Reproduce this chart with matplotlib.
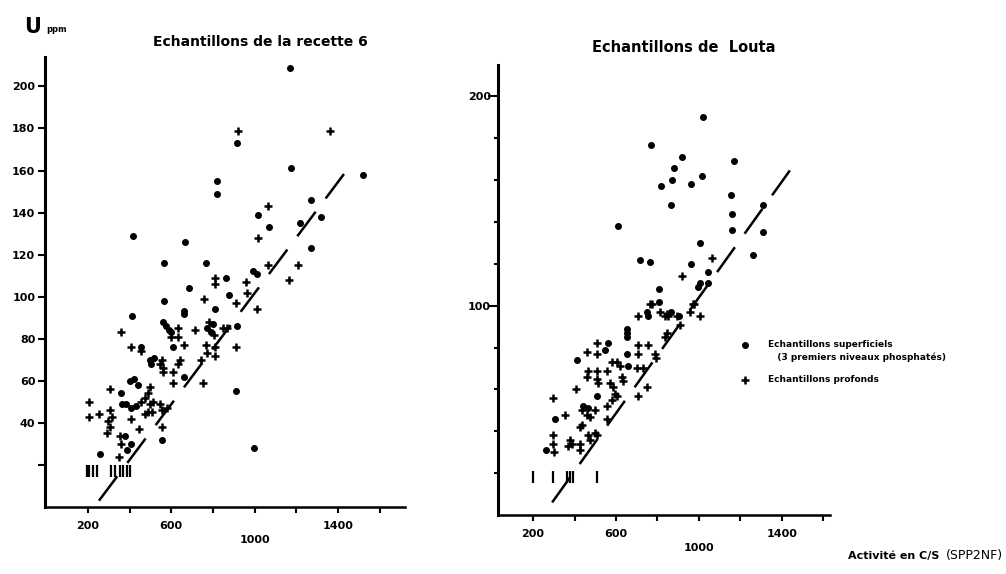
import matplotlib
matplotlib.use("Agg")
import matplotlib.pyplot as plt

plt.rcParams['font.family'] = ['DejaVu Sans']
plt.rcParams['lines.scale_dashes'] = False

# ---------------- data : left panel (Echantillons de la recette 6) -------------
left_sup_x = [1170, 915, 1176, 1518, 818, 819, 1270, 1018, 1318, 1216, 1070, 418, 667,
              1269, 566, 766, 990, 1010, 864, 686, 875, 565, 810, 659, 662, 413, 562,
              914, 609, 457, 500, 505, 515, 661, 909, 998, 358, 400, 420, 440, 362,
              385, 409, 433, 557, 378, 405, 386, 258, 575, 590, 600, 770, 790, 800]
left_sup_y = [209, 173, 161, 158, 155, 149, 146, 139, 138, 135, 133, 129, 126,
              123, 116, 116, 112, 111, 109, 104, 101, 98, 94, 93, 92, 91, 88,
              86, 76, 76, 70, 68, 71, 62, 55, 28, 54, 60, 61, 58, 49,
              49, 47, 48, 32, 34, 30, 27, 25, 86, 84, 83, 85, 83, 87]
left_deep_x = [920, 1362, 1062, 1018, 1066, 1210, 811, 811, 1163, 957, 962, 758, 910,
               1010, 360, 633, 633, 601, 714, 849, 866, 661, 765, 810, 909, 406, 454,
               557, 642, 633, 609, 609, 745, 772, 810, 753, 546, 562, 562, 306, 498,
               490, 457, 474, 498, 513, 506, 546, 554, 578, 490, 474, 205, 205, 254,
               306, 314, 298, 306, 290, 406, 445, 554, 354, 358, 349, 780, 805]
left_deep_y = [179, 179, 143, 128, 115, 115, 109, 106, 108, 107, 102, 99, 97,
               94, 83, 85, 81, 81, 84, 85, 85, 77, 77, 76, 76, 76, 74,
               70, 70, 68, 64, 59, 70, 73, 72, 59, 68, 66, 64, 56, 57,
               54, 50, 52, 49, 50, 45, 49, 46, 47, 45, 44, 50, 43, 44,
               46, 43, 41, 38, 35, 42, 37, 38, 34, 30, 24, 88, 82]
left_low_x = [196, 200, 205, 222, 242, 309, 329, 354, 370, 386, 402]
left_low_y = [17, 17, 17, 17, 17, 17, 17, 17, 17, 17, 17]
left_fit_x = [253, 1434]
left_fit_y = [3, 159]

# ---------------- data : right panel (Echantillons de Louta) -------------------
right_sup_x = [1018, 767, 917, 880, 1169, 870, 1013, 815, 962, 1156, 867, 1310, 1161,
               611, 1161, 1309, 1005, 1262, 716, 764, 960, 1042, 1005, 997, 1045, 809,
               806, 904, 748, 756, 652, 563, 547, 414, 659, 510, 306, 263, 864, 652,
               652, 655, 442, 467]
right_sup_y = [190, 177, 171, 166, 169, 160, 162, 157, 158, 153, 148, 148, 144,
               138, 136, 135, 130, 124, 122, 121, 120, 116, 111, 109, 111, 108,
               102, 95, 97, 95, 77, 82, 79, 74, 71, 57, 46, 31, 97, 89,
               87, 85, 52, 51]
right_deep_x = [1061, 917, 772, 978, 708, 812, 836, 957, 1005, 764, 844, 852, 893, 909,
                973, 844, 836, 756, 788, 791, 708, 708, 510, 510, 459, 579, 603, 700,
                732, 467, 459, 507, 507, 515, 558, 571, 587, 595, 603, 579, 619, 627,
                635, 407, 708, 748, 298, 435, 499, 555, 475, 459, 354, 555, 435, 427,
                499, 507, 467, 475, 378, 370, 386, 427, 427, 298, 298, 303]
right_deep_y = [123, 114, 101, 101, 95, 97, 95, 97, 95, 101, 96, 95, 95, 91,
                101, 87, 85, 81, 77, 75, 81, 77, 82, 77, 78, 73, 73, 70,
                70, 69, 66, 69, 65, 63, 69, 63, 61, 58, 57, 55, 71, 66,
                64, 60, 57, 61, 56, 50, 50, 52, 47, 48, 48, 46, 43, 42,
                39, 38, 38, 36, 36, 33, 34, 34, 31, 38, 34, 30]
right_low_x = [200, 296, 362, 378, 394, 508]
right_low_y = [18, 18, 18, 18, 18, 18]
right_fit_x = [292, 1463]
right_fit_y = [6, 168]

xticks = [200, 400, 600, 800, 1000, 1200, 1400, 1600]
xticklabels = ['200', '', '600', '', '1000', '', '1400', '']
left_yticks = [20, 40, 60, 80, 100, 120, 140, 160, 180, 200]
left_yticklabels = ['', '40', '60', '80', '100', '120', '140', '160', '180', '200']
right_yticks = [20, 40, 60, 80, 100, 120, 140, 160, 180, 200]
right_yticklabels = ['', '', '', '', '100', '', '', '', '', '200']

legend_sup = 'Echantillons superficiels\n   (3 premiers niveaux phosphatés)'
legend_deep = 'Echantillons profonds'

W, H = 1006, 574
fig = plt.figure(figsize=(W / 100, H / 100), dpi=100)
fig.patch.set_facecolor('white')

axL = fig.add_axes([45 / W, 1 - 507 / H, 360 / W, 450 / H])
axR = fig.add_axes([498 / W, 1 - 515 / H, 332 / W, 450 / H])

dot_kw = dict(marker='o', ms=4.0, color='black', linestyle='none', mec='black')
plus_kw = dict(marker='+', ms=5.5, mew=1.8, color='black', linestyle='none')
bar_kw = dict(marker='|', ms=9, mew=1.6, color='black', linestyle='none')

for ax, sx, sy, dx, dy, lx, ly, fx, fy in [
        (axL, left_sup_x, left_sup_y, left_deep_x, left_deep_y,
         left_low_x, left_low_y, left_fit_x, left_fit_y),
        (axR, right_sup_x, right_sup_y, right_deep_x, right_deep_y,
         right_low_x, right_low_y, right_fit_x, right_fit_y)]:
    ax.set_facecolor('white')
    ax.plot(sx, sy, **dot_kw)
    ax.plot(dx, dy, **plus_kw)
    ax.plot(lx, ly, **bar_kw)
    line, = ax.plot(fx, fy, color='black', lw=1.8)
    line.set_dashes((22, 12))
    for s in ['top', 'right']:
        ax.spines[s].set_visible(False)
    ax.spines['left'].set_linewidth(2.2)
    ax.spines['bottom'].set_linewidth(1.8)
    ax.set_xticks(xticks)
    ax.set_xticklabels(xticklabels, fontsize=8, fontweight='bold')
    ax.tick_params(axis='x', direction='out', length=4, width=1.5, pad=6)
    t1000 = ax.xaxis.get_major_ticks()[4]
    t1000.tick1line.set_markersize(9)
    t1000.set_pad(16)

axL.set_xlim(-6, 1722)
axL.set_ylim(0, 214)
axL.set_yticks(left_yticks)
axL.set_yticklabels(left_yticklabels, fontsize=8, fontweight='bold')
axL.tick_params(axis='y', direction='out', length=5, width=1.5, pad=2)

axR.set_xlim(31, 1632)
axR.set_ylim(0, 215)
axR.set_yticks(right_yticks)
axR.set_yticklabels(right_yticklabels, fontsize=8, fontweight='bold')
axR.tick_params(axis='y', direction='out', length=3, width=1.5, pad=2)
for i in (4, 9):
    axR.yaxis.get_major_ticks()[i].tick1line.set_markersize(7)

# titles and labels
fig.text(260 / W, 1 - 42 / H, 'Echantillons de la recette 6', ha='center', va='center',
         fontsize=10, fontweight='bold')
fig.text(684 / W, 1 - 48 / H, 'Echantillons de  Louta', ha='center', va='center',
         fontsize=10.5, fontweight='bold')
fig.text(24 / W, 1 - 27 / H, 'U', ha='left', va='center', fontsize=15, fontweight='bold')
fig.text(46 / W, 1 - 29 / H, 'ppm', ha='left', va='center', fontsize=6, fontweight='bold')
fig.text(848 / W, 1 - 556 / H, 'Activité en C/S', ha='left', va='center',
         fontsize=8, fontweight='bold')
fig.text(1003 / W, 1 - 556 / H, '(SPP2NF)', ha='right', va='center', fontsize=9)

# legend (hand-placed, as in the original)
fig.lines.append(plt.Line2D([745 / W], [1 - 345 / H], transform=fig.transFigure, **dot_kw))
fig.lines.append(plt.Line2D([745 / W], [1 - 380 / H], transform=fig.transFigure, **plus_kw))
fig.text(768 / W, 1 - 345 / H, legend_sup, ha='left', va='top', fontsize=6.5,
         fontweight='bold', linespacing=1.4, transform=fig.transFigure).set_y(1 - 340 / H)
fig.text(768 / W, 1 - 380 / H, legend_deep, ha='left', va='center', fontsize=6.5,
         fontweight='bold')

fig.savefig('out.png', dpi=100, facecolor='white')
